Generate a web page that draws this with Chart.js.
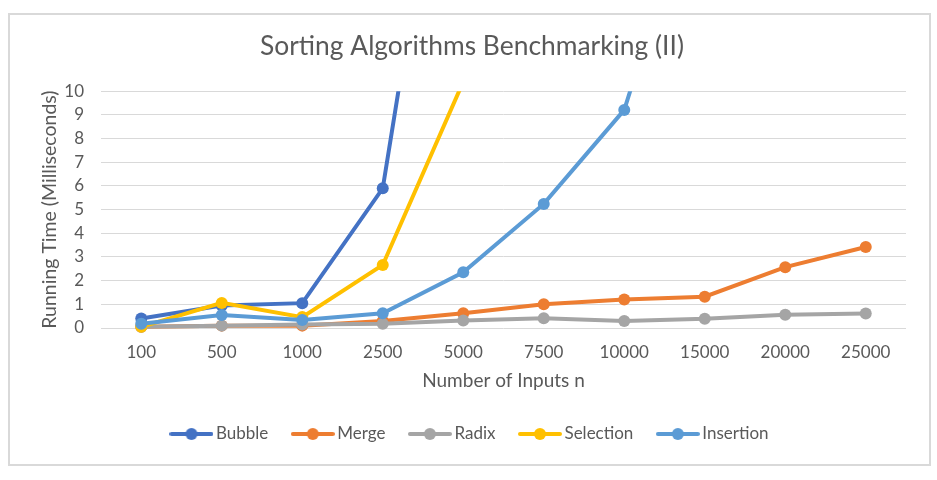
<!DOCTYPE html>
<html>
<head>
<meta charset="utf-8">
<script src="https://cdn.jsdelivr.net/npm/chart.js@4.4.1/dist/chart.umd.min.js"></script>
<style>
  html, body { margin: 0; padding: 0; background: #fff; }
  #frame { position: absolute; left: 8px; top: 13px; width: 919px; height: 449px; border: 2px solid #d9d9d9; }
  #wrap { position: absolute; left: 0; top: 0; width: 937px; height: 480px; }
</style>
</head>
<body>
<div id="frame"></div>
<div id="wrap"><canvas id="c" width="937" height="480"></canvas></div>
<script>
const categories = ['100', '500', '1000', '2500', '5000', '7500', '10000', '15000', '20000', '25000'];
const bubble    = [0.40, 0.95, 1.05, 5.90, 27.0, 60.0, 105.0, 235.0, 415.0, 650.0];
const merge     = [0.05, 0.10, 0.10, 0.30, 0.62, 1.00, 1.20, 1.32, 2.57, 3.42];
const radix     = [0.05, 0.10, 0.15, 0.18, 0.32, 0.41, 0.30, 0.39, 0.56, 0.61];
const selection = [0.05, 1.06, 0.46, 2.66, 10.4, 23.0, 41.0, 92.0, 165.0, 258.0];
const insertion = [0.18, 0.55, 0.34, 0.62, 2.35, 5.24, 9.21, 20.0, 36.0, 56.0];
const seriesNames = ['Bubble', 'Merge', 'Radix', 'Selection', 'Insertion'];
const seriesColors = ['#4472C4', '#ED7D31', '#A5A5A5', '#FFC000', '#5B9BD5'];
const seriesValues = [bubble, merge, radix, selection, insertion];
const yTicks = [0, 1, 2, 3, 4, 5, 6, 7, 8, 9, 10];

const FONT = 'Lato';
const TXT = '#595959';

function legendImage(color) {
  const cv = document.createElement('canvas');
  cv.width = 44; cv.height = 14;
  const g = cv.getContext('2d');
  g.strokeStyle = color; g.lineWidth = 4; g.lineCap = 'round';
  g.beginPath(); g.moveTo(2, 7); g.lineTo(42, 7); g.stroke();
  g.fillStyle = color;
  g.beginPath(); g.arc(22, 7, 6, 0, Math.PI * 2); g.fill();
  return cv;
}

const datasets = seriesNames.map((name, i) => ({
  label: name,
  data: seriesValues[i],
  borderColor: seriesColors[i],
  backgroundColor: seriesColors[i],
  borderWidth: 4,
  pointRadius: 6,
  pointHoverRadius: 6,
  pointBorderWidth: 0,
  pointBackgroundColor: seriesColors[i],
  tension: 0,
  fill: false,
  order: seriesNames.length - i,
  clip: {top: 0, left: false, right: false, bottom: false},
  pointStyle: 'circle',
  legendImg: legendImage(seriesColors[i])
}));

new Chart(document.getElementById('c'), {
  type: 'line',
  data: { labels: categories, datasets: datasets },
  options: {
    responsive: false,
    animation: false,
    devicePixelRatio: 1,
    layout: { padding: { left: 38, right: 31, top: 0, bottom: 27.5 } },
    plugins: {
      tooltip: { enabled: false },
      title: {
        display: true,
        text: 'Sorting Algorithms Benchmarking (II)',
        color: TXT,
        font: { family: FONT, size: 26.4, weight: 'normal' },
        padding: { top: 31, bottom: 28.5 }
      },
      legend: {
        position: 'bottom',
        labels: {
          color: TXT,
          font: { family: FONT, size: 17 },
          usePointStyle: true,
          pointStyleWidth: 32,
          boxHeight: 14,
          padding: 28.5,
          generateLabels: (chart) => chart.data.datasets.map((ds, i) => ({
            text: ds.label,
            fillStyle: ds.borderColor,
            strokeStyle: ds.borderColor,
            lineWidth: 0,
            pointStyle: ds.legendImg,
            datasetIndex: i,
            fontColor: TXT,
            hidden: false
          }))
        }
      }
    },
    scales: {
      x: {
        offset: true,
        grid: { display: false, drawTicks: false },
        border: { display: false },
        ticks: { color: TXT, font: { family: FONT, size: 17 }, padding: 14, maxRotation: 0 },
        title: {
          display: true, text: 'Number of Inputs n', color: TXT,
          font: { family: FONT, size: 19 }, padding: { top: 4, bottom: 4.6 }
        },
        afterFit: (s) => { s.height = 69; }
      },
      y: {
        min: 0, max: 10,
        afterBuildTicks: (s) => { s.ticks = yTicks.map(v => ({ value: v })); },
        grid: { color: '#d9d9d9', lineWidth: 1, drawTicks: false },
        border: { display: false },
        ticks: { color: TXT, font: { family: FONT, size: 17 }, padding: 17 },
        title: {
          display: true, text: 'Running Time (Milliseconds)', color: TXT,
          font: { family: FONT, size: 19.5 }, padding: { top: 0, bottom: 0 }
        },
        afterFit: (s) => { s.width = 63; }
      }
    }
  }
});
</script>
</body>
</html>
